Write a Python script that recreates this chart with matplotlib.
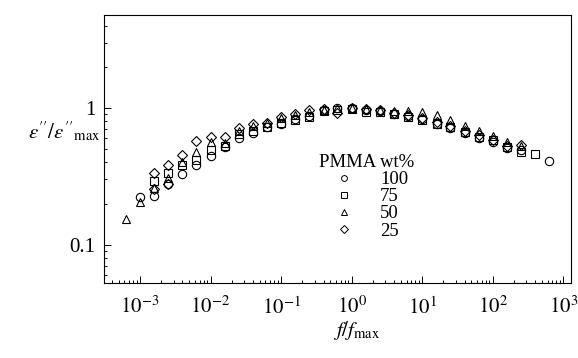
import matplotlib
matplotlib.use("Agg")
import matplotlib.pyplot as plt
from matplotlib.ticker import FixedLocator, LogLocator, NullFormatter
from matplotlib.lines import Line2D

plt.rcParams['font.family'] = ['Liberation Serif', 'DejaVu Serif']
plt.rcParams['mathtext.fontset'] = 'stix'

# ---- data ----
x_100 = [1.0e-3, 1.6e-3, 2.5e-3, 4.0e-3, 6.3e-3, 1.0e-2, 1.6e-2, 2.5e-2, 4.0e-2, 6.3e-2,
         0.10, 0.16, 0.25, 0.40, 0.63, 1.0, 1.6, 2.5, 4.0, 6.3, 10, 16, 25, 40, 63,
         100, 160, 250, 630]
y_100 = [0.223, 0.228, 0.28, 0.33, 0.384, 0.447, 0.516, 0.60, 0.66, 0.72,
         0.77, 0.83, 0.88, 0.96, 1.0, 1.0, 0.97, 0.95, 0.91, 0.87, 0.83, 0.76, 0.71, 0.66, 0.60,
         0.56, 0.51, 0.49, 0.41]

x_75 = [1.6e-3, 2.5e-3, 4.0e-3, 6.3e-3, 1.0e-2, 1.6e-2, 2.5e-2, 4.0e-2, 6.3e-2,
        0.10, 0.16, 0.25, 0.40, 0.63, 1.0, 1.6, 2.5, 4.0, 6.3, 10, 16, 25, 40, 63,
        100, 160, 250, 400]
y_75 = [0.29, 0.333, 0.384, 0.417, 0.49, 0.53, 0.65, 0.68, 0.73,
        0.78, 0.82, 0.865, 0.95, 0.97, 0.99, 0.94, 0.93, 0.90, 0.86, 0.82, 0.76, 0.72, 0.67, 0.61,
        0.58, 0.52, 0.48, 0.46]

x_50 = [6.3e-4, 1.0e-3, 1.6e-3, 2.5e-3, 4.0e-3, 6.3e-3, 1.0e-2, 1.6e-2, 2.5e-2, 4.0e-2, 6.3e-2,
        0.10, 0.16, 0.25, 0.40, 0.63, 1.0, 1.6, 2.5, 4.0, 6.3, 10, 16, 25, 40, 63,
        100, 160, 250]
y_50 = [0.155, 0.207, 0.26, 0.31, 0.40, 0.48, 0.56, 0.55, 0.68, 0.74, 0.78,
        0.85, 0.89, 0.93, 0.97, 1.0, 1.0, 0.98, 0.97, 0.95, 0.95, 0.94, 0.89, 0.81, 0.74, 0.68,
        0.62, 0.56, 0.53]

x_25 = [1.6e-3, 1.6e-3, 2.5e-3, 2.5e-3, 4.0e-3, 6.3e-3, 1.0e-2, 1.6e-2, 2.5e-2, 4.0e-2, 6.3e-2,
        0.10, 0.16, 0.25, 0.40, 0.63, 1.0, 1.6, 2.5, 4.0, 6.3, 10, 16, 25, 40, 63,
        100, 160, 250]
y_25 = [0.333, 0.255, 0.38, 0.28, 0.454, 0.57, 0.61, 0.61, 0.71, 0.764, 0.78,
        0.855, 0.91, 0.97, 0.98, 0.92, 1.0, 0.98, 0.97, 0.92, 0.89, 0.84, 0.79, 0.74, 0.68, 0.635,
        0.58, 0.53, 0.54]

labels = ['100', '75', '50', '25']
markers = ['o', 's', '^', 'D']
legend_title = 'PMMA wt%'
xticks = [1e-3, 1e-2, 1e-1, 1e0, 1e1, 1e2, 1e3]
xticklabels = [r'$10^{-3}$', r'$10^{-2}$', r'$10^{-1}$', r'$10^{0}$', r'$10^{1}$', r'$10^{2}$', r'$10^{3}$']
yticks = [0.1, 1]
yticklabels = ['0.1', '1']

fig = plt.figure(figsize=(5.78, 3.58), dpi=100)
ax = fig.add_axes([104/578, 1 - 283/358, (571 - 104)/578, (283 - 15)/358])

series = [(x_100, y_100), (x_75, y_75), (x_50, y_50), (x_25, y_25)]
sizes = {'o': 6.0, 's': 5.3, '^': 6.0, 'D': 5.0}
for (xs, ys), m in zip(series, markers):
    ax.plot(xs, ys, linestyle='none', marker=m, markersize=sizes[m],
            markerfacecolor='none', markeredgecolor='black', markeredgewidth=0.8)

ax.set_xscale('log')
ax.set_yscale('log')
ax.set_xlim(10**-3.51, 10**3.11)
ax.set_ylim(10**-1.28, 10**0.68)

ax.xaxis.set_major_locator(FixedLocator(xticks))
ax.set_xticklabels(xticklabels)
ax.xaxis.set_minor_locator(LogLocator(base=10, subs=range(2, 10), numticks=20))
ax.xaxis.set_minor_formatter(NullFormatter())
ax.yaxis.set_major_locator(FixedLocator(yticks))
ax.set_yticklabels(yticklabels)
ax.yaxis.set_minor_locator(LogLocator(base=10, subs=range(2, 10), numticks=20))
ax.yaxis.set_minor_formatter(NullFormatter())

ax.tick_params(which='both', direction='in', top=False, right=False, labelsize=15, width=0.7)
ax.tick_params(which='major', length=5, pad=10)
ax.tick_params(which='minor', length=2.5)
ax.tick_params(axis='y', which='major', pad=6)
for s in ax.spines.values():
    s.set_linewidth(0.8)

ax.set_ylabel(r"$\varepsilon''/\varepsilon''_{\mathrm{max}}$", rotation=0, fontsize=15)
ax.yaxis.set_label_coords(-0.085, 0.52)
ax.set_xlabel(r"$f/f_{\mathrm{max}}$", fontsize=15)
ax.xaxis.set_label_coords(0.54, -0.135)

handles = [Line2D([], [], linestyle='none', marker=m, markersize=4.2,
                  markerfacecolor='none', markeredgecolor='black', markeredgewidth=0.7)
           for m in markers]
leg = ax.legend(handles, labels, title=legend_title, loc='upper left',
                bbox_to_anchor=((319 - 104)/467, (283 - 154)/268), frameon=False,
                fontsize=13.5, title_fontsize=13.5, alignment='left',
                handlelength=2.65, handletextpad=0.6, labelspacing=0.0,
                borderaxespad=0, borderpad=0)

fig.savefig('out.png', dpi=100)
